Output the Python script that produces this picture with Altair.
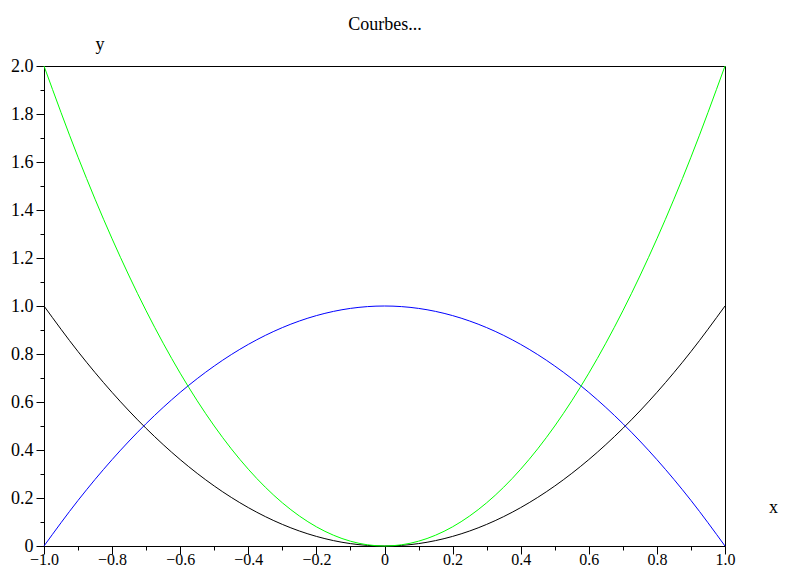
import altair as alt
import pandas as pd

xs = [-1.0, -0.9, -0.8, -0.7, -0.6, -0.5, -0.4, -0.3, -0.2, -0.1, 0.0,
      0.1, 0.2, 0.3, 0.4, 0.5, 0.6, 0.7, 0.8, 0.9, 1.0]
black_y = [1.0, 0.81, 0.64, 0.49, 0.36, 0.25, 0.16, 0.09, 0.04, 0.01, 0.0,
           0.01, 0.04, 0.09, 0.16, 0.25, 0.36, 0.49, 0.64, 0.81, 1.0]
blue_y = [0.0, 0.19, 0.36, 0.51, 0.64, 0.75, 0.84, 0.91, 0.96, 0.99, 1.0,
          0.99, 0.96, 0.91, 0.84, 0.75, 0.64, 0.51, 0.36, 0.19, 0.0]
green_y = [2.0, 1.62, 1.28, 0.98, 0.72, 0.5, 0.32, 0.18, 0.08, 0.02, 0.0,
           0.02, 0.08, 0.18, 0.32, 0.5, 0.72, 0.98, 1.28, 1.62, 2.0]
series = ["noir", "bleu", "vert"]
colors = ["#000000", "#0000ff", "#00ff00"]

x_ticks = [round(-1.0 + 0.1 * i, 1) for i in range(21)]
y_ticks = [round(0.1 * i, 1) for i in range(21)]

rows = []
for name, ys in zip(series, [black_y, blue_y, green_y]):
    for x, y in zip(xs, ys):
        rows.append({"x": x, "y": y, "s": name})
df = pd.DataFrame(rows)

FONT = "Liberation Serif"
major_cond = "abs(round(datum.value*10)) % 2 == 0"
label_expr = ("abs(round(datum.value*10)) % 2 != 0 ? '' : "
              "(datum.value == 0 ? '0' : format(datum.value, '.1f'))")

x_axis = alt.Axis(values=x_ticks, labelExpr=label_expr, grid=False,
                  tickSize={"condition": {"test": major_cond, "value": 8}, "value": 4},
                  tickColor="black", domainColor="black", labelColor="black",
                  labelFont=FONT, labelFontSize=16, labelPadding=-3, title=None,
                  labelFlush=False, labelOverlap=False)
y_axis = alt.Axis(values=y_ticks, labelExpr=label_expr, grid=False,
                  tickSize={"condition": {"test": major_cond, "value": 8}, "value": 4},
                  tickColor="black", domainColor="black", labelColor="black",
                  labelFont=FONT, labelFontSize=18, labelPadding=3, title=None,
                  labelFlush=False, labelOverlap=False)

lines = alt.Chart(df).mark_line(strokeWidth=1, interpolate="monotone").encode(
    x=alt.X("x:Q", scale=alt.Scale(domain=[-1, 1], nice=False, zero=False), axis=x_axis),
    y=alt.Y("y:Q", scale=alt.Scale(domain=[0, 2], nice=False), axis=y_axis),
    color=alt.Color("s:N", scale=alt.Scale(domain=series, range=colors), legend=None),
    detail="s:N",
)

def label(t, x, y, size=18, align="center"):
    return alt.Chart(pd.DataFrame({"t": [t]})).mark_text(
        font=FONT, fontSize=size, color="black", baseline="alphabetic", align=align
    ).encode(text="t:N", x=alt.value(x), y=alt.value(y))

title = label("Courbes...", 341, -36)
ylab = label("y", 56, -16)
xlab = label("x", 734, 447, align="right")

chart = alt.layer(lines, title, ylab, xlab).properties(
    width=681, height=480,
    autosize=alt.AutoSizeParams(type="none"),
    padding={"left": 36, "top": 58, "right": 54, "bottom": 21},
).configure_view(stroke="black", strokeWidth=1)

chart.save("out.html", embed_options={"renderer": "svg", "actions": False})
